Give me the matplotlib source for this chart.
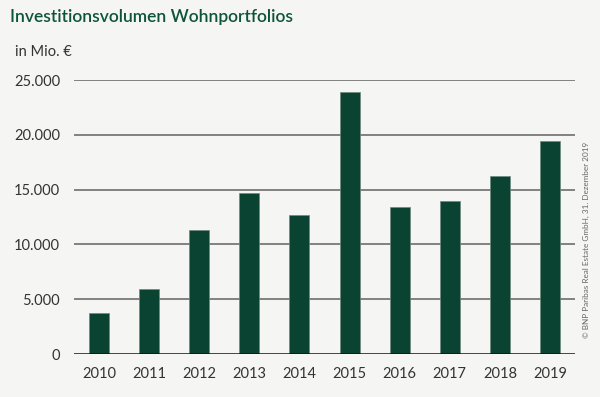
import matplotlib
matplotlib.use('Agg')
import matplotlib.pyplot as plt

years = ['2010', '2011', '2012', '2013', '2014', '2015', '2016', '2017', '2018', '2019']
volumes = [3700, 5950, 11350, 14700, 12650, 23900, 13450, 13950, 16250, 19450]
yticks = [0, 5000, 10000, 15000, 20000, 25000]
ytick_labels = ['0', '5.000', '10.000', '15.000', '20.000', '25.000']

bg = '#f5f5f4'
bar_color = '#0a4332'

plt.rcParams['font.family'] = ['Lato', 'DejaVu Sans']

fig = plt.figure(figsize=(6.0, 3.97), dpi=100, facecolor=bg)
ax = fig.add_axes([74 / 600, 1 - 354 / 397, 501 / 600, 274 / 397], facecolor=bg)

ax.bar(range(len(years)), volumes, width=0.4, color=bar_color,
       edgecolor='#6f8a7f', linewidth=0.5, zorder=3)

ax.set_xlim(-0.5, len(years) - 0.5)
ax.set_ylim(0, 25000)
ax.set_yticks(yticks)
ax.set_yticklabels(ytick_labels, fontsize=10.5, color='#333333')
ax.set_xticks(range(len(years)))
ax.set_xticklabels(years, fontsize=10.5, color='#333333')
ax.tick_params(axis='both', length=0, pad=10)
ax.tick_params(axis='x', pad=9)

for v in yticks[1:]:
    ax.axhline(v, color='#6e6e6e', linewidth=1.2, zorder=1)
ax.axhline(0, color='#111111', linewidth=1.8, zorder=4)

for s in ax.spines.values():
    s.set_visible(False)

fig.text(10 / 600, 1 - 17 / 397, 'Investitionsvolumen Wohnportfolios',
         fontsize=12.5, fontweight='semibold', color='#0d5438', ha='left', va='center')
fig.text(15 / 600, 1 - 52 / 397, 'in Mio. €', fontsize=10.5,
         color='#333333', ha='left', va='center')
fig.text(586 / 600, 1 - 338 / 397, '© BNP Paribas Real Estate GmbH, 31. Dezember 2019',
         fontsize=5.9, color='#666666', rotation=90, ha='center', va='bottom')

fig.savefig('out.png', dpi=100, facecolor=bg)
